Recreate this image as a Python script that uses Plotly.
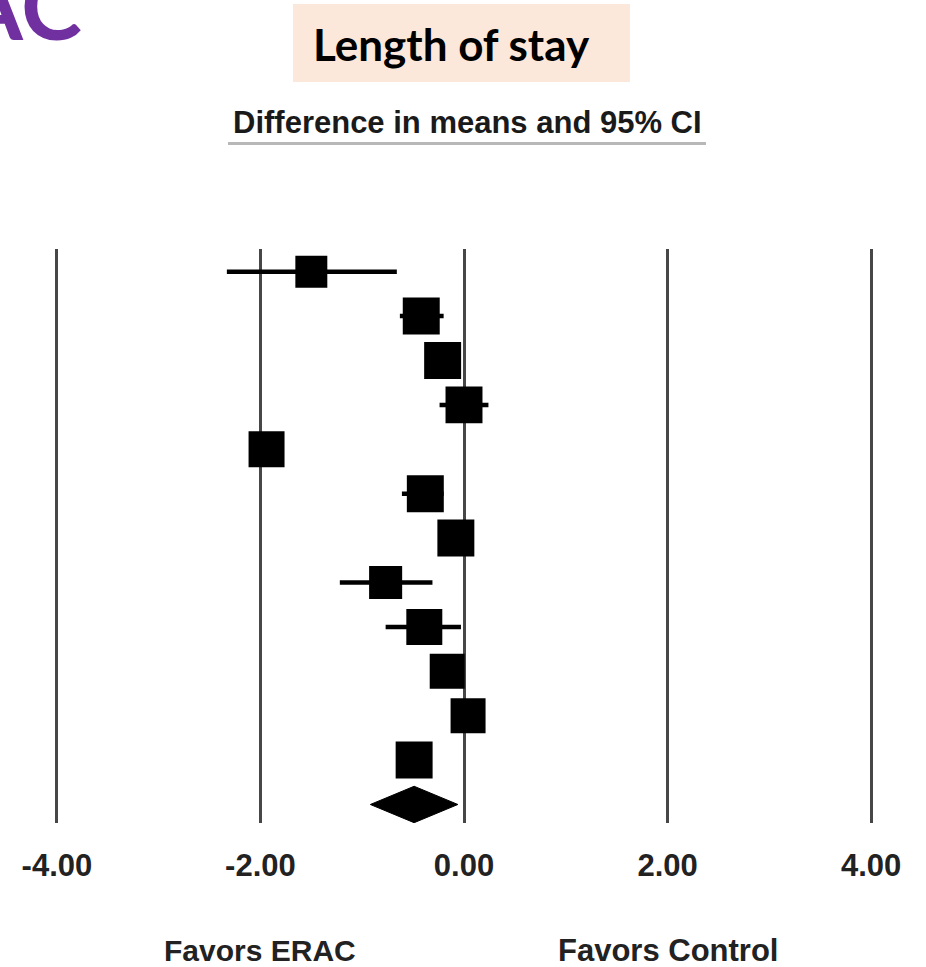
import plotly.graph_objects as go

# ---------------- data ----------------
study_rows = list(range(12))
study_est = [-1.50, -0.42, -0.21, 0.00, -1.94, -0.38, -0.08, -0.77, -0.39, -0.165, 0.04, -0.49]
study_lo = [-2.33, -0.63, -0.34, -0.24, -2.06, -0.61, -0.20, -1.22, -0.77, -0.30, -0.10, -0.62]
study_hi = [-0.66, -0.20, -0.08, 0.24, -1.82, -0.20, 0.04, -0.31, -0.03, -0.03, 0.18, -0.36]
study_weight = [8.6, 11.5, 11.5, 11.5, 10.9, 11.5, 11.5, 9.2, 10.9, 10.3, 10.3, 11.5]

pooled_row = 12
pooled_est = -0.49
pooled_lo = -0.92
pooled_hi = -0.06

tick_vals = [-4, -2, 0, 2, 4]
tick_text = ["-4.00", "-2.00", "0.00", "2.00", "4.00"]

favors_left = "Favors ERAC"
favors_right = "Favors Control"
title_text = "Length of stay"
subtitle_text = "Difference in means and 95% CI"
corner_text = "ERAC"

# ---------------- figure ----------------
W, H = 926, 967
L, R, T, B = 6, 4, 249, 144
plot_h = H - T - B

def px_x(px):
    return (px - L) / (W - L - R)

def px_y(py):
    return (H - B - py) / plot_h

fig = go.Figure()

# confidence intervals (drawn first, beneath squares)
ci_x, ci_y = [], []
for r, lo, hi in zip(study_rows, study_lo, study_hi):
    ci_x += [lo, hi, None]
    ci_y += [r, r, None]
fig.add_trace(go.Scatter(
    x=ci_x, y=ci_y, mode="lines", line=dict(color="black", width=4.5),
    hoverinfo="skip", showlegend=False,
))

sizes = [10.9 * w ** 0.5 for w in study_weight]
fig.add_trace(go.Scatter(
    x=study_est, y=study_rows, mode="markers",
    marker=dict(symbol="square", size=sizes, color="#000000", opacity=1,
                line=dict(width=0)),
    hoverinfo="skip", showlegend=False,
))

dh = 0.41
fig.add_trace(go.Scatter(
    x=[pooled_lo, pooled_est, pooled_hi, pooled_est, pooled_lo],
    y=[pooled_row, pooled_row - dh, pooled_row, pooled_row + dh, pooled_row],
    mode="lines", fill="toself", fillcolor="black",
    line=dict(color="black", width=1), hoverinfo="skip", showlegend=False,
))

fig.update_xaxes(
    range=[-4.5, 4.5], tickvals=tick_vals, ticktext=tick_text,
    showgrid=True, gridcolor="#474747", gridwidth=3, zeroline=False,
    showline=False, ticks="",
    tickfont=dict(family="Liberation Sans, Arial", size=31, color="#222", weight="bold"),
    ticklabelstandoff=21,
)
fig.update_yaxes(
    range=[12.417, -0.511], visible=False, showgrid=False, zeroline=False,
)

font_main = "Liberation Sans, Arial"

fig.add_annotation(x=-2, y=px_y(950), xref="x", yref="paper", text=favors_left,
                   showarrow=False, yanchor="middle",
                   font=dict(family=font_main, size=30, color="#222", weight="bold"))
fig.add_annotation(x=2, y=px_y(950), xref="x", yref="paper", text=favors_right,
                   showarrow=False, yanchor="middle",
                   font=dict(family=font_main, size=31, color="#222", weight="bold"))

# title box
fig.add_shape(type="rect", xref="paper", yref="paper",
              x0=px_x(293), x1=px_x(630), y0=px_y(82), y1=px_y(4),
              fillcolor="#FCE8DB", line=dict(width=0), layer="below")
fig.add_annotation(x=px_x(451.5), y=px_y(44), xref="paper", yref="paper",
                   text=title_text, showarrow=False, yanchor="middle",
                   font=dict(family="Lato", size=44, color="black", weight="bold"))

# subtitle + underline
fig.add_annotation(x=px_x(467), y=px_y(122.5), xref="paper", yref="paper",
                   text=subtitle_text, showarrow=False, yanchor="middle",
                   font=dict(family=font_main, size=31, color="#1a1a1a", weight="bold"))
fig.add_shape(type="line", xref="paper", yref="paper",
              x0=px_x(228), x1=px_x(706), y0=px_y(143.5), y1=px_y(143.5),
              line=dict(color="#b8b8b8", width=3))

# purple corner text (cropped at the page edge, as in the source)
fig.add_annotation(x=px_x(84), y=px_y(4), xref="paper", yref="paper",
                   text=corner_text, showarrow=False, xanchor="right", yanchor="middle",
                   font=dict(family="Lato", size=92, color="#7030A0", weight="bold"))

fig.update_layout(
    width=W, height=H, margin=dict(l=L, r=R, t=T, b=B),
    paper_bgcolor="white", plot_bgcolor="white",
)

fig.write_html("out.html")
